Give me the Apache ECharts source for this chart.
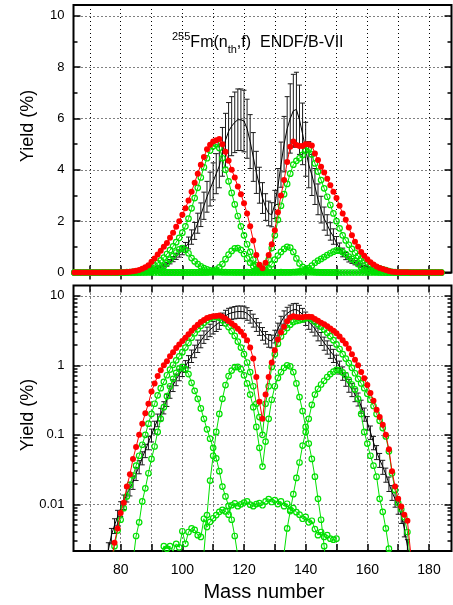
<!DOCTYPE html>
<html><head><meta charset="utf-8">
<script src="https://cdn.jsdelivr.net/npm/echarts@6/dist/echarts.min.js"></script>
<style>html,body{margin:0;padding:0;background:#fff}#c{width:453px;height:605px}</style>
</head><body><div id="c"></div><script>
// ---- data (mass number A, yield %) ----
const massStart = 65; // first mass of endfYield / s1Yield / s2Yield / s3Yield
const endfYield = [
0,0,0,0,0,0,0,0,0,0.0001,
0.0002,0.0006,0.0015,0.0028,0.0045,0.0075,0.0105,0.018,0.027,0.045,
0.067,0.1,0.145,0.205,0.28,0.42,0.55,0.7,0.85,1.0,
1.15,1.35,1.55,1.78,2.0,2.25,2.5,2.8,3.15,3.5,
3.85,4.2,4.5,4.8,4.98,5.1,5.15,5.2,5.0,4.7,
4.35,4.0,3.7,3.35,3.05,2.7,2.3,1.8,1.25,0.68,
0.3,0.17,0.38,0.68,1.1,1.65,2.35,3.0,3.6,4.3,
4.9,5.1,4.97,4.93,4.93,5.0,5.0,4.95,4.64,4.38,
4.12,3.9,3.65,3.4,3.15,2.9,2.6,2.3,2.05,1.75,
1.45,1.2,1.0,0.8,0.65,0.52,0.4,0.31,0.23,0.18,
0.14,0.1,0.062,0.03,0.018,0.012,0.0093,0.0071,0.0058,0.0021,
0.0008,0.0003,0.0001,0,0,0,0,0,0,0];
const expStart = 66; // first mass of expYield / expError
const expYield = [
0.0001,0.0001,0.0002,0.0002,0.0003,0.0004,0.0006,0.0009,0.0012,0.0016,
0.0022,0.0036,0.005,0.0066,0.0088,0.011,0.014,0.017,0.021,0.028,
0.035,0.047,0.06,0.078,0.1,0.13,0.165,0.2,0.25,0.32,
0.42,0.52,0.63,0.74,0.86,0.98,1.15,1.38,1.62,1.92,
2.25,2.6,2.95,3.25,3.55,3.85,4.15,4.7,5.15,5.5,
5.7,5.85,5.95,5.95,5.9,5.6,5.1,4.5,3.9,3.4,
2.9,2.55,2.3,2.25,2.65,3.35,4.2,5.0,5.6,6.0,
6.3,6.35,5.95,5.4,4.8,4.2,3.8,3.35,2.85,2.45,
2.1,1.85,1.6,1.4,1.15,0.95,0.78,0.64,0.52,0.45,
0.38,0.33,0.26,0.2,0.15,0.11,0.078,0.057,0.044,0.035,
0.027,0.02,0.015,0.012,0.0095,0.007,0.0045,0.0025,0.0012];
const expError = [
0.00003,0.00003,0.00005,0.00005,0.00008,0.0001,0.00015,0.0002,0.0003,0.0004,
0.0006,0.0009,0.0012,0.0016,0.0021,0.0026,0.0032,0.0038,0.0046,0.006,
0.0075,0.01,0.013,0.017,0.021,0.027,0.034,0.041,0.05,0.064,
0.084,0.1,0.12,0.14,0.17,0.19,0.23,0.28,0.33,0.39,
0.46,0.53,0.6,0.66,0.72,0.78,0.85,0.95,1.05,1.12,
1.15,1.18,1.2,1.2,1.2,1.15,1.05,0.95,0.82,0.7,
0.6,0.52,0.48,0.47,0.55,0.7,0.88,1.08,1.25,1.35,
1.42,1.45,1.35,1.2,1.05,0.9,0.8,0.7,0.6,0.52,
0.45,0.4,0.34,0.3,0.25,0.2,0.17,0.14,0.11,0.095,
0.08,0.07,0.055,0.043,0.033,0.024,0.017,0.013,0.01,0.008,
0.0062,0.0047,0.0036,0.0029,0.0023,0.0017,0.0011,0.0006,0.0003];
const s1Yield = [
0,0,0,0,0,0,0,0,0,0,0,
0.0005,0.0012,0.0025,0.0042,0.006,0.0088,0.013,0.019,0.026,0.036,
0.05,0.072,0.1,0.145,0.2,0.28,0.37,0.47,0.58,0.72,
0.87,1.02,1.18,1.35,1.55,1.8,2.1,2.5,2.9,3.3,
3.7,4.1,4.45,4.75,4.92,5.0,4.85,4.45,4.0,3.55,
3.1,2.65,2.2,1.8,1.45,1.1,0.8,0.5,0.28,0.18,
0.1,0.28,0.5,0.95,1.45,2.05,2.6,3.05,3.45,3.85,
4.2,4.35,4.45,4.58,4.75,4.82,4.6,4.25,3.93,3.6,
3.28,2.95,2.63,2.3,2.0,1.72,1.45,1.25,1.08,0.92,
0.77,0.64,0.55,0.47,0.39,0.32,0.26,0.2,0.16,0.125,
0.095,0.058,0.028,0.016,0.0105,0.0085,0.0065,0.004,0.0015,0.0005,
0,0,0,0,0,0,0,0,0];
const s2Yield = [
0,0,0,0,0,0,0,0,0,0,0,0,0,0,0,0,0,0,0,0,
0,0,0,0,0,0,0,0,0,0,0,0,0,0,0,0,0,0,0,0,0,
0.0006,0.002,0.007,0.022,0.05,0.11,0.2,0.33,0.52,0.7,
0.84,0.94,0.95,0.88,0.72,0.55,0.38,0.25,0.13,0.065,
0.035,0.08,0.17,0.32,0.5,0.66,0.8,0.92,1.0,0.97,
0.8,0.55,0.35,0.22,0.13,0.075,0.045,0.025,0.012,0.006,
0.0025,0.0008,
0,0,0,0,0,0,0,0,0,0,0,0,0,0,0,0,0,0,0,0,0,0,0,0,0,0,0,0,0,0,0,0,0,0,0,0,0];
const s3Yield = [
0,0,0,0,0,0,0,0,0,0,0,0,0,0,0,0,0,0,0,
0.0015,0.0035,0.0055,0.011,0.017,0.028,0.045,0.068,0.11,0.17,
0.25,0.36,0.5,0.64,0.78,0.9,0.95,0.88,0.75,0.56,
0.43,0.33,0.24,0.17,0.12,0.088,0.065,0.046,0.03,0.018,
0.013,0.0095,0.006,0.0035,0.0018,0.0008,
0,0,0,0,0,0,0,0,0,0,0,0,
0.0008,0.002,0.0045,0.008,0.014,0.024,0.04,0.07,0.11,0.17,
0.27,0.38,0.46,0.53,0.6,0.68,0.75,0.81,0.86,0.85,
0.79,0.72,0.62,0.53,0.45,0.33,0.2,0.11,0.075,0.05,
0.036,0.025,0.012,0.0078,0.0045,0.0023,0.0009,
0,0,0,0,0,0,0,0,0,0,0,0,0,0,0,0];
const symStart = 93;
const symYield = [
0.0016,0.0025,0.0023,0.0025,0.0021,0.0027,0.0024,0.0041,0.0027,0.004,
0.0045,0.0043,0.0036,0.0034,0.0062,0.0047,0.0056,0.0063,0.007,0.0078,
0.0083,0.0079,0.0071,0.0097,0.0103,0.0094,0.01,0.0106,0.011,0.0099,
0.0094,0.0101,0.0104,0.0097,0.011,0.0119,0.0108,0.0115,0.0101,0.011,
0.0094,0.0102,0.0083,0.0088,0.0077,0.0071,0.0062,0.0066,0.0055,0.0058,
0.0044,0.0036,0.004,0.0034,0.0036,0.0032,0.0031,0.0032];
const xTickValues = [70,80,90,100,110,120,130,140,150,160,170,180];
const xLabelValues = [80,100,120,140,160,180];
const linMajor = [0,2,4,6,8,10];
const linMinor = [1,3,5,7,9];
const logMajor = [0.01,0.1,1,10];
const logMinor = [0.003,0.004,0.005,0.006,0.007,0.008,0.009,0.02,0.03,0.04,0.05,0.06,0.07,0.08,0.09,
  0.2,0.3,0.4,0.5,0.6,0.7,0.8,0.9,2,3,4,5,6,7,8,9];
const titleText = '{sup|255}{m|Fm(n}{sub|th}{m|,f)  ENDF/B-VII}';

// ---- chart ----
const FONT = '"Liberation Sans", Arial, sans-serif';
const GREEN = '#00e000';
const RED = '#ff0000';
const X_MIN = 64.7, X_MAX = 187.3;
const LIN_MAX = 10.42, LOG_MIN = 0.00213, LOG_MAX = 14.1;

function pairs(start, arr, log) {
  return arr.map((v, i) => [start + i, log ? (v > 0 ? v : '-') : v]);
}
function errRender(params, api) {
  const m = api.value(0);
  const pLo = api.coord([m, api.value(1)]);
  const pHi = api.coord([m, api.value(2)]);
  let y1 = pHi[1], y2 = pLo[1];
  if (y2 - y1 < 4) { const c = (y1 + y2) / 2; y1 = c - 2; y2 = c + 2; }
  const x = pLo[0], w = 2.5;
  const st = { stroke: '#1a1a1a', lineWidth: 1 };
  return { type: 'group', children: [
    { type: 'line', shape: { x1: x, y1: y1, x2: x, y2: y2 }, style: st },
    { type: 'line', shape: { x1: x - w, y1: y1, x2: x + w, y2: y1 }, style: st },
    { type: 'line', shape: { x1: x - w, y1: y2, x2: x + w, y2: y2 }, style: st }
  ]};
}
function xAxes(gridIndex, withLabels) {
  const base = {
    type: 'value', gridIndex: gridIndex, min: X_MIN, max: X_MAX,
    axisLine: { show: false },
    axisTick: { show: true, inside: true, length: 7, customValues: xTickValues, lineStyle: { color: '#000', width: 1.5 } },
    splitLine: { show: false }, axisLabel: { show: false }
  };
  const bottom = Object.assign({}, base, { position: 'bottom',
    splitLine: { show: true, lineStyle: { color: '#000', type: [1, 3], width: 1 } },
    axisLabel: withLabels ? { show: true, customValues: xLabelValues, margin: 12, fontSize: 14, color: '#000', fontFamily: FONT } : { show: false }
  });
  const top = Object.assign({}, base, { position: 'top' });
  return [bottom, top];
}
function yAxes(gridIndex, log) {
  const major = log ? logMajor : linMajor;
  const minor = log ? logMinor : linMinor;
  const base = {
    type: log ? 'log' : 'value', gridIndex: gridIndex,
    min: log ? LOG_MIN : 0, max: log ? LOG_MAX : LIN_MAX,
    axisLine: { show: false }, splitLine: { show: false }, axisLabel: { show: false }
  };
  const tick = (vals, len) => ({ show: true, inside: true, length: len, customValues: vals, lineStyle: { color: '#000', width: 1.5 } });
  return [
    Object.assign({}, base, { position: 'left', axisTick: tick(major, 7),
      splitLine: { show: true, lineStyle: { color: '#000', type: [1, 3], width: 1 } },
      axisLabel: { show: true, customValues: major, margin: 9, fontSize: 13, color: '#000', fontFamily: FONT,
        formatter: v => String(v) } }),
    Object.assign({}, base, { position: 'left', axisTick: tick(minor, 4) }),
    Object.assign({}, base, { position: 'right', axisTick: tick(major, 7) }),
    Object.assign({}, base, { position: 'right', axisTick: tick(minor, 4) })
  ];
}
function seriesFor(xi, yi, log) {
  const common = { xAxisIndex: xi, yAxisIndex: yi, silent: true, animation: false };
  const greenLine = (start, arr) => Object.assign({}, common, {
    type: 'line', data: pairs(start, arr, log), z: 3,
    symbol: 'circle', symbolSize: 5.5, showAllSymbol: true,
    itemStyle: { color: 'rgba(255,255,255,0)', borderColor: GREEN, borderWidth: 1.2 },
    lineStyle: { color: GREEN, width: 1 }
  });
  return [
    Object.assign({}, common, { type: 'custom', renderItem: errRender, clip: true, z: 2,
      data: expYield.map((v, i) => [expStart + i, v - expError[i], v + expError[i]]),
      encode: { x: 0, y: [1, 2] } }),
    Object.assign({}, common, { type: 'line', data: pairs(expStart, expYield, log), z: 2,
      symbol: 'none', lineStyle: { color: '#000', width: 1 } }),
    greenLine(massStart, s1Yield),
    greenLine(massStart, s2Yield),
    greenLine(massStart, s3Yield),
    greenLine(symStart, symYield),
    Object.assign({}, common, { type: 'line', data: pairs(massStart, endfYield, log), z: 4,
      symbol: 'circle', symbolSize: 6, showAllSymbol: true,
      itemStyle: { color: RED }, lineStyle: { color: RED, width: 1 } })
  ];
}

const chart = echarts.init(document.getElementById('c'), null, { renderer: 'canvas' });
const gridStyle = { show: true, borderColor: '#000', borderWidth: 2, backgroundColor: 'transparent' };
chart.setOption({
  animation: false,
  backgroundColor: '#fff',
  grid: [
    Object.assign({ left: 73.5, top: 5, width: 378, height: 267.5 }, gridStyle),
    Object.assign({ left: 73.5, top: 285.5, width: 378, height: 265.5 }, gridStyle)
  ],
  xAxis: [...xAxes(0, false), ...xAxes(1, true)],
  yAxis: [...yAxes(0, false), ...yAxes(1, true)],
  series: [...seriesFor(0, 0, false), ...seriesFor(2, 4, true)],
  graphic: [
    { type: 'text', x: 172, y: 43, silent: true, style: {
        text: titleText, fill: '#000', verticalAlign: 'middle', align: 'left',
        rich: {
          m: { fontSize: 16, fontFamily: FONT, lineHeight: 24, verticalAlign: 'middle' },
          sup: { fontSize: 11, fontFamily: FONT, lineHeight: 24, verticalAlign: 'top' },
          sub: { fontSize: 11, fontFamily: FONT, lineHeight: 24, verticalAlign: 'bottom' }
        } } },
    { type: 'text', x: 28, y: 126, rotation: Math.PI / 2, silent: true, style: {
        text: 'Yield (%)', fontSize: 18, fontFamily: FONT, fill: '#000', align: 'center', verticalAlign: 'middle' } },
    { type: 'text', x: 28, y: 415, rotation: Math.PI / 2, silent: true, style: {
        text: 'Yield (%)', fontSize: 18, fontFamily: FONT, fill: '#000', align: 'center', verticalAlign: 'middle' } },
    { type: 'text', x: 264, y: 592, silent: true, style: {
        text: 'Mass number', fontSize: 20, fontFamily: FONT, fill: '#000', align: 'center', verticalAlign: 'middle' } }
  ]
});
</script></body></html>
